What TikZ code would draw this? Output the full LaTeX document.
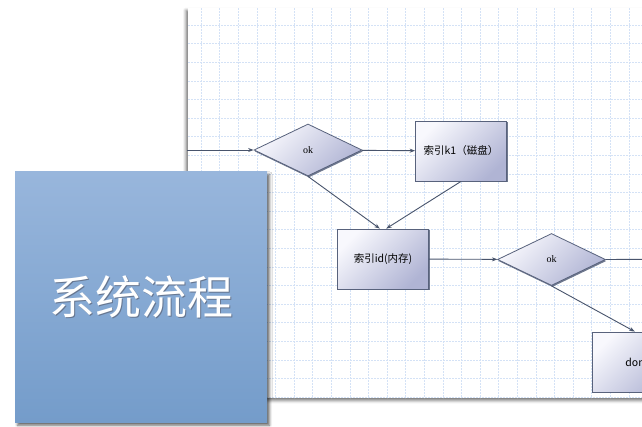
\documentclass[tikz,border=0pt]{standalone}
\usepackage{fontspec}
\setmainfont{Liberation Serif}
\newfontfamily\cjk{Noto Sans CJK SC}
\usetikzlibrary{shapes.geometric,arrows.meta,shadows,shadows.blur}
\definecolor{gridblue}{RGB}{212,226,246}
\definecolor{edgec}{RGB}{88,98,124}
\definecolor{arrowc}{RGB}{72,84,108}
\definecolor{boxlight}{RGB}{248,248,253}
\definecolor{boxdark}{RGB}{176,180,212}
\definecolor{titletop}{RGB}{152,182,220}
\definecolor{titlebot}{RGB}{116,156,202}
\definecolor{titleshade}{RGB}{64,84,116}
\newcommand\shadedtitle[1]{\makebox[0pt][l]{\hspace{1.6pt}\raisebox{-1.6pt}{\color{titleshade!80}#1}}#1}
\tikzset{
  gridline/.style={gridblue,line width=.6pt,dash pattern=on 2pt off 1pt},
  procbox/.style={draw=edgec,line width=.8pt,top color=boxlight,bottom color=boxdark,shading angle=45,
    minimum width=91pt,minimum height=60pt,inner sep=0pt,font=\cjk\fontsize{10.5}{12}\selectfont,
    drop shadow={shadow xshift=1.2pt,shadow yshift=-1.2pt,fill=edgec,opacity=.85}},
  decision/.style={diamond,draw=edgec,line width=.8pt,top color=boxlight,bottom color=boxdark,shading angle=45,
    minimum width=108pt,minimum height=52pt,inner sep=0pt,font=\fontsize{10}{12}\selectfont,
    drop shadow={shadow xshift=.8pt,shadow yshift=-1.5pt,fill=edgec,opacity=.85}},
  flow/.style={arrowc,line width=.9pt,-{Stealth[length=5.5pt,width=4pt]}},
  titlebox/.style={top color=titletop,bottom color=titlebot,minimum width=252pt,minimum height=251pt,
    text=white,font=\cjk\fontsize{46}{50}\selectfont,
    blur shadow={shadow xshift=2.5pt,shadow yshift=-2.5pt,shadow blur radius=2.5pt,shadow opacity=60}}
}
\begin{document}
\begin{tikzpicture}[x=1pt,y=-1pt]
\useasboundingbox (0,0) rectangle (642,426);
% grid panel
\fill[white,blur shadow={shadow xshift=-2pt,shadow yshift=-2.5pt,shadow blur radius=3pt,shadow opacity=55}] (188,8) rectangle (680,398);
\begin{scope}
\clip (188,8) rectangle (680,398);
\foreach \i in {0,...,25} \draw[gridline] ({201+18.6*\i},8) -- ++(0,390);
\foreach \j in {0,...,20} \draw[gridline] (188,{25+18.6*\j}) -- ++(480,0);
\end{scope}
% nodes
\coordinate (start) at (187,150);
\coordinate (away) at (700,259);
\node[decision] (d1) at (308,150) {ok};
\node[procbox] (b1) at (461,151) {索引k1（磁盘）};
\node[procbox] (b2) at (383,259) {索引id(内存)};
\node[decision] (d2) at (551.5,259.5) {ok};
\node[procbox] (b3) at (638,362) {done};
% connectors
\draw[flow] (start) -- (d1);
\draw[flow] (d1) -- (b1);
\draw[flow] (d1.south) -- (b2.96);
\draw[flow] (b1.south) -- (b2.84);
\draw[flow] (b2) -- (d2);
\draw[arrowc,line width=.9pt] (d2.east) -- (away);
\draw[flow] (d2.south) -- (b3.96);
% title
\node[titlebox] (title) at (141,297.3) {\shadedtitle{系统流程}};
\end{tikzpicture}
\end{document}
